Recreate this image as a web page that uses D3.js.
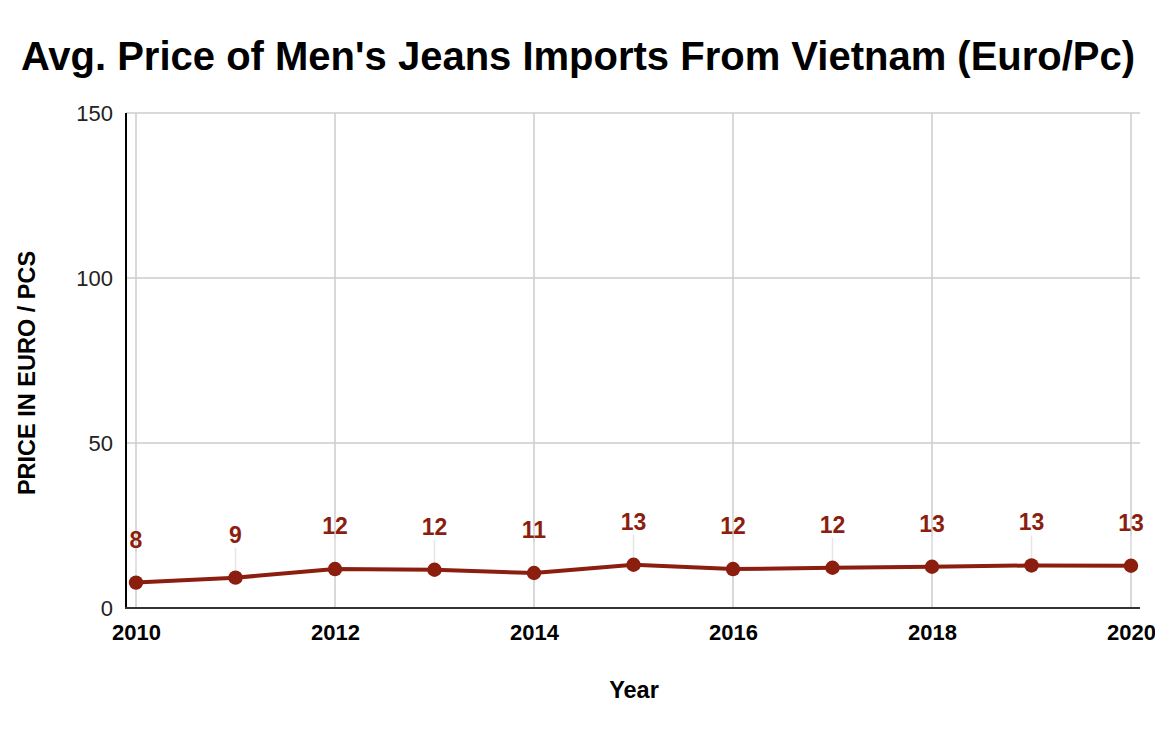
<!DOCTYPE html>
<html><head><meta charset="utf-8">
<script src="https://cdn.jsdelivr.net/npm/d3@7"></script>
<style>
html,body{margin:0;padding:0;background:#fff;}
svg{display:block;font-family:"Liberation Sans",Arial,sans-serif;}
</style></head>
<body>
<svg id="chart" width="1155" height="741"></svg>
<script>
const years = [2010, 2011, 2012, 2013, 2014, 2015, 2016, 2017, 2018, 2019, 2020];
const prices = [7.7, 9.2, 11.8, 11.6, 10.6, 13.1, 11.8, 12.2, 12.5, 12.9, 12.8];
const yTicks = [0, 50, 100, 150];
const xTicks = [2010, 2012, 2014, 2016, 2018, 2020];
const title = "Avg. Price of Men's Jeans Imports From Vietnam (Euro/Pc)";
const xTitle = "Year";
const yTitle = "PRICE IN EURO / PCS";

const svg = d3.select("#chart");
const color = "#8b1e0f";
const font = "Liberation Sans, Arial, sans-serif";
const x = d3.scaleLinear().domain([2010, 2020]).range([136, 1131]);
const y = d3.scaleLinear().domain([0, 150]).range([608, 113]);

// horizontal gridlines
svg.append("g").selectAll("line").data(yTicks.filter(d => d > 0)).join("line")
  .attr("x1", 126).attr("x2", 1140)
  .attr("y1", d => y(d)).attr("y2", d => y(d))
  .attr("stroke", "#cccccc").attr("stroke-width", 1.5);

// vertical gridlines
svg.append("g").selectAll("line").data(xTicks).join("line")
  .attr("x1", d => x(d)).attr("x2", d => x(d))
  .attr("y1", 113).attr("y2", 608)
  .attr("stroke", "#cccccc").attr("stroke-width", 1.5);

// y axis
const yAxis = svg.append("g").attr("transform", "translate(126,0)")
  .call(d3.axisLeft(y).tickValues(yTicks).tickSize(0).tickPadding(13));
yAxis.select(".domain").remove();
yAxis.attr("font-size", null).attr("font-family", null);
yAxis.selectAll("text").attr("font-size", 22).attr("fill", "#222")
  .attr("font-family", font);
svg.append("line").attr("x1", 126).attr("x2", 126).attr("y1", 113).attr("y2", 609)
  .attr("stroke", "#000").attr("stroke-width", 2);

// x axis
const xAxis = svg.append("g").attr("transform", "translate(0,608)")
  .call(d3.axisBottom(x).tickValues(xTicks).tickFormat(d3.format("d")).tickSize(0).tickPadding(16));
xAxis.select(".domain").remove();
xAxis.attr("font-size", null).attr("font-family", null);
xAxis.selectAll("text").attr("font-size", 22).attr("font-weight", "bold").attr("fill", "#000")
  .attr("font-family", font);
svg.append("line").attr("x1", 125).attr("x2", 1140).attr("y1", 608).attr("y2", 608)
  .attr("stroke", "#333").attr("stroke-width", 2);

// leader lines
svg.append("g").selectAll("line").data(years).join("line")
  .attr("x1", d => x(d)).attr("x2", d => x(d))
  .attr("y1", (d, i) => y(prices[i]) - 30).attr("y2", (d, i) => y(prices[i]))
  .attr("stroke", "#e6e6e6").attr("stroke-width", 1.5);

// line
const line = d3.line().x((d, i) => x(years[i])).y(d => y(d));
svg.append("path").datum(prices).attr("d", line)
  .attr("fill", "none").attr("stroke", color).attr("stroke-width", 4)
  .attr("stroke-linejoin", "round");

// points
svg.append("g").selectAll("circle").data(prices).join("circle")
  .attr("cx", (d, i) => x(years[i])).attr("cy", d => y(d)).attr("r", 7.2)
  .attr("fill", color);

// data labels
svg.append("g").selectAll("text").data(prices).join("text")
  .attr("x", (d, i) => x(years[i])).attr("y", d => y(d) - 35)
  .attr("text-anchor", "middle").attr("font-size", 23).attr("font-weight", "bold")
  .attr("fill", color).text(d => Math.round(d));

// title
svg.append("text").attr("x", 578).attr("y", 70).attr("text-anchor", "middle")
  .attr("font-size", 40).attr("font-weight", "bold").attr("fill", "#000").text(title);

// axis titles
svg.append("text").attr("x", 634).attr("y", 698).attr("text-anchor", "middle")
  .attr("font-size", 23.5).attr("font-weight", "bold").attr("fill", "#000").text(xTitle);
svg.append("text").attr("transform", "translate(35,373) rotate(-90)").attr("text-anchor", "middle")
  .attr("font-size", 23.5).attr("font-weight", "bold").attr("fill", "#000").text(yTitle);
</script>
</body></html>
